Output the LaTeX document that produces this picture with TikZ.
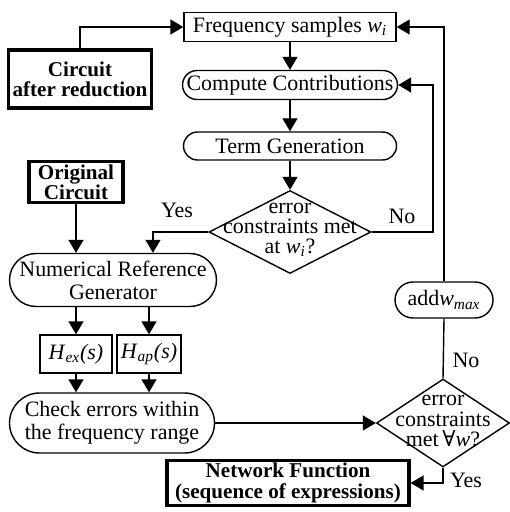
\documentclass[tikz,border=0pt]{standalone}
\usepackage{fontspec}
\setmainfont{Liberation Serif}
\newfontfamily\symfont{DejaVu Serif}
\usetikzlibrary{arrows.meta,shapes.geometric,shapes.misc}
\newcommand{\itsub}[2]{\textit{#1}\textsubscript{\textit{#2}}}

\begin{document}
\begin{tikzpicture}[x=0.2mm,y=-0.2mm,
    every node/.style={font=\fontsize{12.5}{13}\selectfont,align=center,inner sep=0pt},
    box/.style={draw,line width=0.8pt},
    heavy/.style={draw,line width=1.8pt,inner xsep=2pt,inner ysep=1.5pt,font=\fontsize{12}{11.5}\selectfont\bfseries},
    pill/.style={draw,line width=0.8pt,rounded rectangle},
    decision/.style={draw,line width=0.8pt,diamond},
    tight/.style={font=\fontsize{12.5}{11.5}\selectfont},
    arr/.style={line width=0.8pt,-{Triangle[length=2.6mm,width=3mm]}},
    link/.style={line width=0.8pt}]
      \useasboundingbox (0,0) rectangle (509,512);
      \node [box,minimum width=42.4mm,minimum height=5.8mm] (freq) at (290,27) {Frequency samples \itsub{w}{i}};
      \node [heavy,minimum width=28.6mm,minimum height=11.6mm] (reduced) at (80,79) {Circuit\\after reduction};
      \node [pill,minimum width=43mm,minimum height=5.8mm] (contrib) at (290,85) {Compute Contributions};
      \node [pill,minimum width=42.6mm,minimum height=5.6mm] (termgen) at (290,146) {Term Generation};
      \node [decision,minimum width=32.4mm,minimum height=16.6mm] (check1) at (290,232) {};
      \node [tight] (check1t) at (290,230) {error\\constraints met\\at \itsub{w}{i}?};
      \node [heavy,minimum width=18.8mm,minimum height=8mm] (orig) at (76,182) {Original\\Circuit};
      \node [pill,minimum width=41.4mm,minimum height=10.6mm] (numref) at (113,280) {Numerical Reference\\Generator};
      \node [box,minimum width=14.4mm,minimum height=7.6mm] (hex) at (76,354) {\itsub{H}{ex}\textit{(s)}};
      \node [box,minimum width=12.8mm,minimum height=7.6mm] (hap) at (149,354) {\itsub{H}{ap}\textit{(s)}};
      \node [pill,minimum width=41mm,minimum height=12mm] (errchk) at (112,423) {Check errors within\\the frequency range};
      \node [pill,minimum width=19.6mm,minimum height=7.2mm] (addw) at (444,300) {add\itsub{w}{max}};
      \node [decision,minimum width=26.6mm,minimum height=17.6mm] (check2) at (443,423) {};
      \node [tight] (check2t) at (443,421) {error\\constraints\\met\,{\symfont ∀}\textit{w}?};
      \node [heavy,minimum width=48.4mm,minimum height=8mm] (netfn) at (288,483) {Network Function\\(sequence of expressions)};
      \node (yes1) at (177,210) {Yes};
      \node (no1) at (402,216) {No};
      \node (no2) at (466,360) {No};
      \node (yes2) at (466,480) {Yes};
      \coordinate (yesx) at (153,0);
      \coordinate (innerx) at (433,0);
      \draw [arr] (reduced.north) |- (freq.west);
      \draw [arr] (freq.south) -- (contrib.north);
      \draw [arr] (contrib.south) -- (termgen.north);
      \draw [arr] (termgen.south) -- (check1.north);
      \draw [arr] (check1.west) -| (yesx |- numref.north);
      \draw [arr] (orig.south) -- (orig.south |- numref.north);
      \draw [arr] (check1.east) -| (innerx |- contrib.east) -- (contrib.east);
      \draw [arr] (addw.north) |- (freq.east);
      \draw [link] (check2.north) -- (addw.south);
      \draw [arr] (numref.south -| hex) -- (hex.north);
      \draw [arr] (numref.south -| hap) -- (hap.north);
      \draw [arr] (hex.south) -- (hex.south |- errchk.north);
      \draw [arr] (hap.south) -- (hap.south |- errchk.north);
      \draw [arr] (errchk.east) -- (check2.west);
      \draw [arr] (check2.south) |- (netfn.east);
\end{tikzpicture}
\end{document}
